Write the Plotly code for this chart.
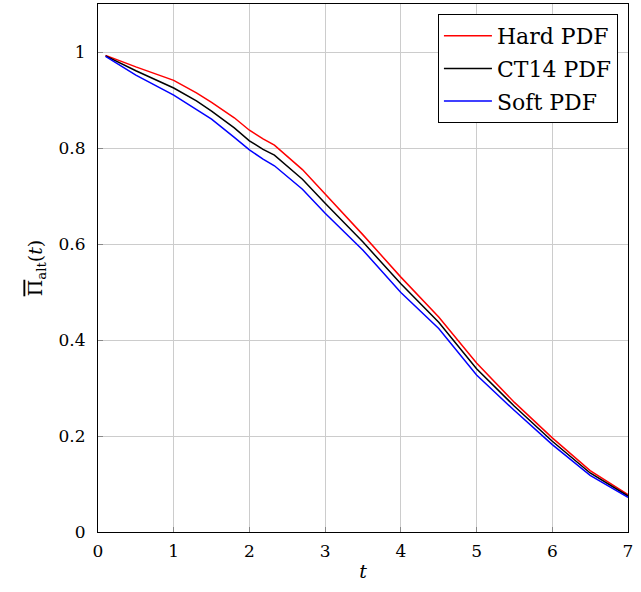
import plotly.graph_objects as go

t = [0.1, 0.5, 1.0, 1.3, 1.5, 1.8, 2.0, 2.18, 2.33, 2.7, 3.0, 3.5, 4.0, 4.5, 5.0, 5.5, 6.0, 6.5, 7.0]
hard = [0.993, 0.969, 0.941, 0.915, 0.895, 0.863, 0.837, 0.819, 0.806, 0.755, 0.704, 0.619, 0.531, 0.448, 0.352, 0.270, 0.196, 0.128, 0.078]
ct14 = [0.992, 0.961, 0.925, 0.898, 0.877, 0.842, 0.815, 0.797, 0.785, 0.735, 0.685, 0.604, 0.517, 0.437, 0.340, 0.262, 0.189, 0.123, 0.075]
soft = [0.991, 0.952, 0.910, 0.881, 0.860, 0.822, 0.796, 0.777, 0.763, 0.714, 0.664, 0.587, 0.499, 0.424, 0.327, 0.253, 0.182, 0.118, 0.072]

names = ["Hard PDF", "CT14 PDF", "Soft PDF"]
colors = ["red", "black", "blue"]

fig = go.Figure()
for name, ys, c in zip(names, [hard, ct14, soft], colors):
    fig.add_trace(go.Scatter(x=t, y=ys, mode="lines", name=name, legendgroup=name,
                             line=dict(color=c, width=1.5)))

font_family = "DejaVu Serif, Liberation Serif, serif"
fig.update_layout(
    width=641, height=592,
    margin=dict(l=98, r=13, t=4, b=60),
    paper_bgcolor="white", plot_bgcolor="white",
    font=dict(family=font_family, size=17, color="black"),
    showlegend=True,
    legend=dict(x=0.981, y=0.981, xanchor="right", yanchor="top",
                bordercolor="black", borderwidth=1, bgcolor="white",
                font=dict(size=22), tracegroupgap=1, itemwidth=48),
)
fig.update_xaxes(range=[0, 7], dtick=1, showgrid=True, gridcolor="#cccccc", gridwidth=1,
                 showline=True, linecolor="black", linewidth=1, mirror=True,
                 ticks="inside", ticklen=5, tickcolor="#888888", zeroline=False,
                 ticklabelstandoff=4,
                 title=dict(text="<i>t</i>", standoff=4, font=dict(size=19)))
fig.update_yaxes(range=[0, 1.1], dtick=0.2, showgrid=True, gridcolor="#cccccc", gridwidth=1,
                 showline=True, linecolor="black", linewidth=1, mirror=True,
                 ticks="inside", ticklen=5, tickcolor="#888888", zeroline=False,
                 ticklabelstandoff=8,
                 title=dict(text="<span style='text-decoration:overline'>\u03a0</span><sub>alt</sub>(<i>t</i>)",
                            standoff=10, font=dict(size=19)))

fig.write_html("out.html", config={"displayModeBar": False},
               post_script="document.body.style.margin='0';document.body.style.padding='0';")
